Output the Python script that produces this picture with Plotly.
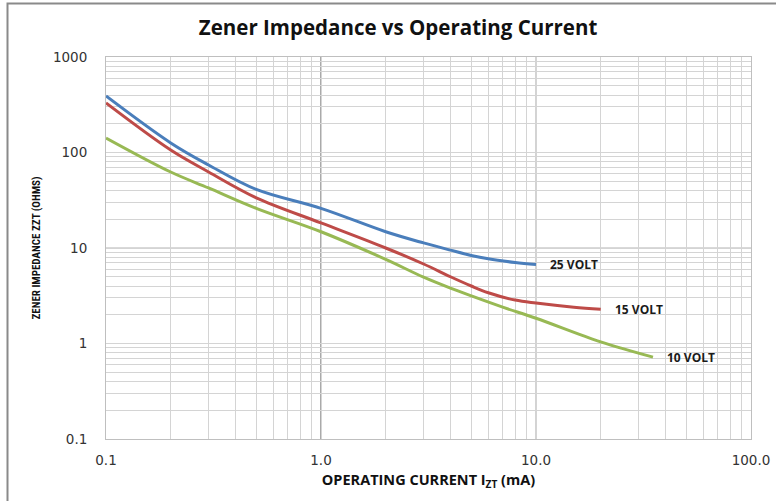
import math
import plotly.graph_objects as go

# ---- data ----
x_25v = [0.1, 0.2, 0.3, 0.5, 1.0, 2.0, 3.0, 4.0, 5.0, 6.0, 8.0, 10.0]
z_25v = [391, 126, 74, 41, 26, 14.8, 11.3, 9.5, 8.35, 7.7, 7.05, 6.7]

x_15v = [0.1, 0.2, 0.3, 0.5, 1.0, 2.0, 3.0, 4.0, 5.0, 6.0, 8.0, 10.0, 15.0, 20.0]
z_15v = [330, 106, 62.5, 33.5, 18.3, 10.0, 6.8, 5.0, 4.0, 3.4, 2.85, 2.65, 2.4, 2.28]

x_10v = [0.1, 0.2, 0.3, 0.5, 1.0, 2.0, 3.0, 4.0, 5.0, 7.0, 10.0, 20.0, 35.0]
z_10v = [142, 62.5, 42.5, 26, 14.8, 7.6, 4.95, 3.8, 3.15, 2.4, 1.84, 1.04, 0.72]

series_names = ["25 VOLT", "15 VOLT", "10 VOLT"]
x_major = [0.1, 1, 10, 100]
x_major_text = ["0.1", "1.0", "10.0", "100.0"]
y_major = [0.1, 1, 10, 100, 1000]
y_major_text = ["0.1", "1", "10", "100", "1000"]

colors = ["#4a7ebb", "#be4b48", "#98b954"]


def grid_ticks(major, labels):
    vals, texts = [], []
    for m, lab in zip(major, labels):
        vals.append(m)
        texts.append(lab)
        if m != major[-1]:
            for k in range(2, 10):
                vals.append(m * k)
                texts.append("")
    return vals, texts


xv, xt = grid_ticks(x_major, x_major_text)
yv, yt = grid_ticks(y_major, y_major_text)

fig = go.Figure()
for xs, ys, name, c in zip([x_25v, x_15v, x_10v], [z_25v, z_15v, z_10v], series_names, colors):
    fig.add_trace(go.Scatter(x=xs, y=ys, mode="lines", name=name,
                             line=dict(color=c, width=3, shape="spline", smoothing=1.0),
                             showlegend=False, hoverinfo="x+y"))
    fig.add_annotation(x=math.log10(xs[-1]), y=math.log10(ys[-1]), xref="x", yref="y",
                       text="<b>%s</b>" % name,
                       showarrow=False, xanchor="left", yanchor="middle", xshift=12,
                       font=dict(family="Open Sans, DejaVu Sans, sans-serif", size=12, color="#1a1a1a"))

fig.update_layout(
    width=776, height=501,
    margin=dict(l=106, r=25, t=57, b=62),
    paper_bgcolor="white", plot_bgcolor="white",
    title=dict(text="<b>Zener Impedance vs Operating Current</b>", x=0.513, xanchor="center",
               y=0.944, yanchor="middle",
               font=dict(family="Open Sans, DejaVu Sans, sans-serif", size=20.5, color="#111")),
    xaxis=dict(type="log", range=[-1, 2], tickmode="array", tickvals=xv, ticktext=xt,
               tickangle=0, automargin=False,
               showgrid=True, gridcolor="#d4d4d4", gridwidth=1,
               showline=True, linecolor="#bfbfbf", linewidth=1, mirror=True,
               ticks="outside", ticklen=9, tickcolor="rgba(0,0,0,0)", zeroline=False,
               tickfont=dict(family="DejaVu Sans, sans-serif", size=13.5, color="#333"),
               title=dict(text="<b>OPERATING CURRENT I<sub>ZT</sub> (mA)</b>", standoff=7,
                          font=dict(family="Open Sans, Liberation Sans, sans-serif",
                                    size=14.5, color="#111"))),
    yaxis=dict(type="log", range=[-1, 3], tickmode="array", tickvals=yv, ticktext=yt,
               automargin=False,
               showgrid=True, gridcolor="#d4d4d4", gridwidth=1,
               showline=True, linecolor="#bfbfbf", linewidth=1, mirror=True,
               ticks="outside", ticklen=15, tickcolor="rgba(0,0,0,0)", zeroline=False,
               tickfont=dict(family="DejaVu Sans, sans-serif", size=13.5, color="#333"),
               title=dict(text="<b>ZENER IMPEDANCE ZZT (OHMS)</b>", standoff=10,
                          font=dict(family="Liberation Sans Narrow, Roboto Condensed, Liberation Sans, sans-serif",
                                    size=11, color="#111"))),
)

# darker major gridlines
for v in x_major[1:-1]:
    fig.add_shape(type="line", xref="x", yref="paper", x0=v, x1=v, y0=0, y1=1,
                  line=dict(color="#a6a6a6", width=1), layer="below")
for v in y_major[1:-1]:
    fig.add_shape(type="line", xref="paper", yref="y", x0=0, x1=1, y0=v, y1=v,
                  line=dict(color="#b3b3b3", width=1), layer="below")
fig.add_shape(type="line", xref="x", yref="paper", x0=1, x1=1, y0=0, y1=1,
              line=dict(color="#808080", width=1), layer="below")

# outer chart border (partially cropped like the reference)
fig.add_shape(type="rect", xref="paper", yref="paper",
              x0=(7.5 - 106) / 645, x1=(790 - 106) / 645,
              y0=(439 - 515) / 382, y1=(439 - 3.5) / 382,
              line=dict(color="#8a8a8a", width=2), fillcolor="rgba(0,0,0,0)")

fig.write_html("out.html", config={"displayModeBar": False},
               post_script="document.body.style.margin='0';")
